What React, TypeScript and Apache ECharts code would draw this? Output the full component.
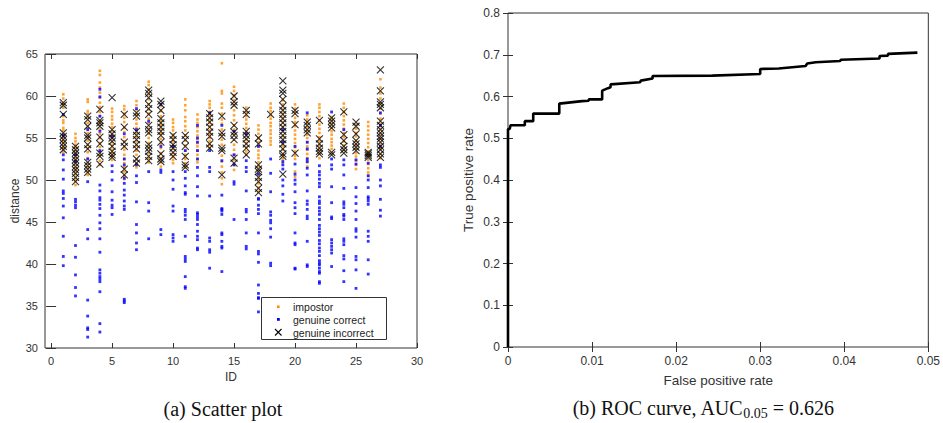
import React, { useEffect, useRef } from 'react';
import * as echarts from 'echarts';

// ---------- data ----------
const ids = [1, 2, 3, 4, 5, 6, 7, 8, 9, 10, 11, 12, 13, 14, 15, 16, 17, 18, 19, 20, 21, 22, 23, 24, 25, 26, 27];

const impostorById: number[][] = [
  [60.2, 59.7, 59.1, 58.6, 57.6, 57.1, 56.8, 56.2, 55.9, 55.4, 55.1, 54.7, 54.4, 54.0, 53.7, 53.3],
  [55.5, 55.0, 54.6, 54.2, 53.9, 53.4, 53.1, 52.6, 52.3, 51.9, 51.4, 51.1, 50.7, 50.2, 49.9, 49.4],
  [59.6, 59.3, 58.2, 57.9, 57.4, 56.8, 56.2, 55.6, 55.2, 54.7, 54.2, 53.8, 53.3, 52.6, 52.0, 51.5, 51.0, 50.6],
  [63.0, 62.5, 61.6, 61.0, 60.4, 59.8, 59.2, 58.7, 58.1, 57.6, 57.0, 56.6, 56.0, 55.5, 55.0, 54.4, 53.9, 53.4, 52.9, 52.3, 51.8],
  [58.5, 58.1, 57.6, 57.2, 56.7, 56.3, 55.8, 55.4, 55.0, 54.5, 54.1, 53.6, 53.2, 52.8, 52.4],
  [58.8, 58.4, 57.9, 57.4, 56.9, 56.2, 55.7, 55.1, 54.6, 54.0, 53.6, 53.0, 52.5, 52.0, 51.5, 51.0, 50.5, 50.1],
  [59.4, 58.9, 58.3, 57.8, 57.2, 56.7, 56.2, 55.6, 55.1, 54.6, 54.1, 53.5, 53.0, 52.4, 51.9, 51.5],
  [61.7, 61.3, 60.8, 60.2, 59.6, 59.0, 58.4, 57.9, 57.3, 56.8, 56.1, 55.5, 55.0, 54.4, 53.9, 53.2, 52.6, 52.1],
  [58.8, 58.2, 57.6, 57.0, 56.5, 56.0, 55.5, 54.9, 54.3, 53.8, 53.2, 52.6, 52.1, 51.6],
  [57.2, 56.8, 56.3, 55.9, 55.4, 55.0, 54.6, 54.1, 53.7, 53.2, 52.8, 52.4, 52.0],
  [59.6, 58.9, 58.3, 57.5, 57.0, 56.4, 55.9, 55.3, 54.7, 54.1, 53.5, 53.0, 52.5, 52.0, 51.5],
  [57.8, 57.2, 56.8, 56.3, 55.8, 55.3, 54.9, 54.4, 54.0, 53.5, 53.0, 52.5, 52.1],
  [59.4, 59.0, 58.6, 58.1, 57.7, 57.2, 56.8, 56.4, 55.9, 55.5, 55.0, 54.6, 54.2, 53.8],
  [63.9, 60.6, 60.3, 59.1, 58.6, 57.9, 57.2, 56.7, 56.0, 55.4, 54.8, 54.2, 53.5, 52.9, 52.2, 51.6, 50.9, 50.2, 49.5],
  [61.1, 60.6, 60.1, 59.5, 58.9, 58.3, 57.7, 57.1, 56.5, 56.0, 55.4, 54.8, 54.2, 53.6, 53.0, 52.4, 51.8, 51.2],
  [58.6, 58.1, 57.6, 57.2, 56.7, 56.2, 55.7, 55.3, 54.8, 54.4, 53.9, 53.4, 53.0],
  [56.5, 56.0, 55.5, 55.0, 54.5, 54.0, 53.5, 53.0, 52.6, 52.1, 51.6, 51.1, 50.6, 50.1, 49.6, 49.1, 48.6],
  [59.1, 58.6, 58.2, 57.7, 57.3, 56.8, 56.4, 55.9, 55.5, 55.0, 54.6, 54.2],
  [59.5, 59.0, 58.4, 57.9, 57.4, 56.9, 56.3, 55.8, 55.2, 54.7, 54.1, 53.6, 53.0, 52.5, 52.0],
  [59.0, 58.5, 58.0, 57.4, 56.9, 56.4, 55.9, 55.4, 54.9, 54.4, 53.9, 53.4, 52.9, 52.5, 51.0, 50.4],
  [57.7, 57.2, 56.8, 56.3, 55.9, 55.4, 55.0, 54.5, 54.0, 53.6, 53.1, 52.6, 52.1, 51.6],
  [59.0, 58.6, 58.1, 57.6, 57.1, 56.6, 56.1, 55.6, 55.1, 54.6, 54.1, 53.6, 53.1, 52.6],
  [57.5, 57.1, 56.7, 56.2, 55.8, 55.4, 54.9, 54.5, 54.1, 53.7, 53.2],
  [59.1, 58.6, 58.1, 57.6, 57.1, 56.6, 56.1, 55.6, 55.1, 54.6, 54.1, 53.6],
  [56.6, 56.1, 55.6, 55.2, 54.7, 54.2, 53.7, 53.2, 52.8, 52.3, 51.8, 51.3],
  [56.9, 56.4, 55.9, 55.4, 54.9, 54.4, 53.9, 53.4, 52.9, 52.4, 51.9, 51.4, 50.9, 50.5],
  [62.0, 61.0, 60.3, 59.7, 59.1, 58.5, 57.9, 57.3, 56.7, 56.1, 55.5, 54.9, 54.3, 53.7, 53.1, 52.6],
];

const correctById: number[][] = [
  [57.8, 55.3, 53.0, 52.4, 51.2, 50.1, 48.7, 48.4, 47.8, 46.9, 45.5, 43.3, 40.9, 39.8],
  [53.0, 52.2, 47.7, 47.4, 47.0, 46.7, 42.2, 40.8, 38.7, 37.2, 36.2],
  [56.0, 52.5, 49.8, 44.1, 43.0, 35.7, 33.8, 32.4, 32.2, 31.3],
  [60.8, 59.9, 57.6, 55.8, 53.5, 49.4, 48.7, 47.9, 47.6, 47.1, 46.6, 45.8, 44.9, 44.2, 43.0, 41.4, 39.3, 38.9, 38.5, 38.2, 37.9, 36.7, 32.9, 31.9],
  [55.2, 51.7, 51.0, 50.0, 48.6, 47.6, 47.0, 46.7, 45.9],
  [55.5, 52.5, 51.8, 50.2, 49.6, 48.8, 48.2, 47.5, 46.9, 46.5, 35.8, 35.6, 35.4],
  [58.5, 56.0, 51.8, 50.5, 49.7, 47.4, 44.7, 43.7, 42.5, 41.7],
  [57.0, 51.0, 47.3, 46.3, 43.0],
  [59.0, 54.0, 51.2, 50.9, 44.1, 43.5],
  [54.0, 51.0, 50.0, 48.9, 46.9, 46.3, 43.5, 43.1, 42.7],
  [53.5, 51.0, 50.2, 49.3, 48.5, 48.3, 46.5, 46.2, 45.8, 45.3, 43.3, 40.9, 40.6, 40.3, 38.5, 37.3, 37.1],
  [56.5, 55.0, 54.5, 53.5, 52.5, 51.5, 50.5, 49.2, 48.1, 46.1, 45.9, 45.6, 45.3, 44.7, 43.9, 43.3, 42.9, 41.9, 41.7],
  [58.0, 53.5, 51.5, 51.0, 48.1, 43.1, 42.7, 41.7, 41.4, 39.5],
  [56.5, 52.3, 48.2, 46.6, 46.5, 46.3, 45.9, 43.7, 43.5, 42.7, 42.1, 41.9, 39.1],
  [55.8, 53.0, 51.8, 49.8, 49.5, 45.3],
  [55.5, 52.3, 51.5, 51.0, 48.7, 46.5, 46.2, 45.3, 43.7, 42.1, 41.8],
  [54.0, 50.7, 47.8, 47.7, 47.0, 46.5, 46.0, 43.7, 41.5, 41.2, 40.2, 37.5, 36.5, 36.0, 35.9, 34.3],
  [52.5, 50.8, 48.6, 46.2, 45.8, 45.2, 44.9, 44.2, 43.2, 40.1, 39.8],
  [56.0, 54.5, 52.2, 51.8, 51.3, 50.0, 49.3, 48.3, 47.5],
  [54.0, 51.9, 50.7, 50.0, 49.5, 48.6, 47.3, 46.7, 46.0, 43.7, 42.5, 42.3, 39.5, 39.4],
  [58.0, 54.5, 53.7, 52.5, 52.2, 51.4, 50.6, 48.7, 47.5, 47.1, 46.5, 45.7, 45.4, 42.7, 39.9, 39.7],
  [51.7, 51.0, 50.6, 50.1, 49.6, 49.2, 48.0, 47.5, 47.2, 46.7, 46.3, 45.9, 45.3, 44.6, 44.2, 43.8, 43.4, 42.8, 42.4, 41.9, 41.5, 41.0, 40.4, 40.1, 39.9, 39.5, 39.1, 38.9, 37.9, 37.7],
  [58.1, 52.5, 51.8, 51.3, 49.2, 47.3, 45.6, 45.4, 42.9, 42.5, 42.1, 41.7, 41.3, 39.7],
  [56.0, 52.4, 51.8, 50.6, 49.0, 47.4, 47.1, 46.7, 45.9, 45.7, 45.3, 43.0, 42.7, 42.3, 41.0, 40.6, 39.2, 37.9],
  [52.4, 51.9, 49.1, 48.0, 47.2, 46.3, 45.3, 44.2, 43.9, 43.2, 40.9, 40.5, 39.3, 37.1],
  [52.0, 50.5, 50.0, 49.1, 48.0, 47.8, 47.5, 47.1, 43.9, 43.3, 42.7, 40.5, 38.8],
  [58.0, 56.5, 54.0, 51.8, 51.5, 50.0, 49.3, 47.7, 46.4, 45.7],
];

const incorrectById: number[][] = [
  [59.2, 58.9, 57.8, 55.6, 55.2, 54.8, 54.4, 54.0, 53.6],
  [54.0, 53.6, 53.2, 52.8, 52.4, 52.0, 51.6, 51.2, 50.8, 50.3, 49.8],
  [57.6, 57.2, 56.4, 55.3, 55.0, 54.2, 53.7, 52.1, 51.7, 51.3, 50.9],
  [58.4, 57.1, 56.8, 56.4, 55.1, 54.3, 53.2, 52.8, 51.9],
  [59.8, 56.0, 55.5, 55.0, 54.6, 54.0, 53.4, 53.0, 52.7],
  [57.8, 56.3, 54.5, 54.0, 51.3, 50.6],
  [58.0, 57.6, 55.8, 55.3, 54.8, 54.2, 53.7, 52.5, 52.0],
  [60.7, 60.3, 59.8, 59.0, 58.5, 57.8, 56.5, 56.0, 55.6, 54.2, 53.8, 53.4, 52.8, 52.3],
  [59.4, 59.0, 58.3, 57.3, 56.8, 56.3, 55.8, 55.3, 54.5, 53.1, 52.5, 52.2],
  [55.3, 54.8, 54.2, 53.8, 53.3, 52.8],
  [55.3, 54.8, 54.0, 52.8, 51.8, 51.5],
  [],
  [57.9, 57.4, 56.9, 56.3, 55.7, 55.2, 54.3, 53.8],
  [57.6, 55.6, 55.2, 53.8, 53.5, 50.6],
  [60.0, 59.3, 58.9, 56.5, 55.7, 55.3, 54.8, 52.6, 52.0],
  [58.3, 57.8, 55.8, 55.3, 54.9, 54.3, 53.8, 53.0],
  [55.0, 54.3, 51.8, 51.3, 51.0, 50.3, 49.8, 49.0, 48.5],
  [57.8],
  [61.8, 60.7, 60.3, 59.6, 58.8, 58.3, 57.8, 57.3, 56.8, 56.3, 55.8, 55.3, 54.8, 54.3, 53.7, 53.1, 52.8, 50.7],
  [58.3, 57.9, 56.6, 53.2],
  [56.9, 56.5, 56.0, 55.6],
  [57.1, 54.9, 54.3, 53.8, 53.4, 53.1],
  [57.4, 57.0, 56.6, 56.2, 53.3, 53.0],
  [58.1, 55.4, 54.7, 54.0, 53.6, 53.2],
  [56.9, 56.4, 55.5, 54.7, 54.3, 53.9, 53.5],
  [53.3, 53.1, 52.9, 52.7],
  [63.1, 60.6, 59.3, 59.0, 58.6, 57.0, 56.5, 56.0, 55.6, 55.2, 54.9, 54.5, 54.0, 53.6, 53.1, 52.7],
];

const rocFpr = [0, 0, 0.0002, 0.0003, 0.0020, 0.0020, 0.0030, 0.0030, 0.0061, 0.0061, 0.0088, 0.0096, 0.0096, 0.0112, 0.0112, 0.0119, 0.0122, 0.0122, 0.0157, 0.0158, 0.0172, 0.0172, 0.0243, 0.0300, 0.0300, 0.0322, 0.0354, 0.0356, 0.0366, 0.0395, 0.0396, 0.0442, 0.0442, 0.0452, 0.0452, 0.0487];
const rocTpr = [0, 0.522, 0.522, 0.531, 0.531, 0.541, 0.541, 0.559, 0.559, 0.583, 0.589, 0.590, 0.593, 0.593, 0.614, 0.620, 0.622, 0.629, 0.634, 0.638, 0.643, 0.649, 0.650, 0.654, 0.666, 0.667, 0.673, 0.679, 0.682, 0.685, 0.688, 0.691, 0.697, 0.698, 0.702, 0.705];

const xTicksLeft = [0, 5, 10, 15, 20, 25, 30];
const legendLabels = ['impostor', 'genuine correct', 'genuine incorrect'];
const captionA = '(a) Scatter plot';
const captionB = ['(b) ROC curve, AUC', '0.05', ' = 0.626'];

// ---------- style ----------
const ORANGE = '#ff8c00';
const BLUE = '#0000ff';
const AXIS = '#333';
const SANS = '"Liberation Sans", Arial, Helvetica, sans-serif';
const SERIF = '"Liberation Serif", "Times New Roman", serif';

function toPairs(lists: number[][]) {
  const out: number[][] = [];
  lists.forEach((vals, i) => vals.forEach((v) => out.push([ids[i], v])));
  return out;
}

const X_PATH = 'path://M0,0L10,10M10,0L0,10';

export default function App() {
  const ref = useRef<HTMLDivElement>(null);
  useEffect(() => {
    const chart = echarts.init(ref.current!, null, { renderer: 'svg' });
    const tickLabel = { color: AXIS, fontFamily: SANS, fontSize: 11 };
    const tickLabelR = { color: AXIS, fontFamily: SANS, fontSize: 12 };
    const hiddenMirror = {
      axisLine: { show: false },
      axisLabel: { show: false },
      splitLine: { show: false },
    };
    const option: any = {
      animation: false,
      backgroundColor: '#fff',
      grid: [
        { left: 45, top: 54, width: 372, height: 294, show: true, borderColor: AXIS, borderWidth: 1, backgroundColor: 'transparent' },
        { left: 508, top: 13, width: 422, height: 334, show: true, borderColor: AXIS, borderWidth: 1, backgroundColor: 'transparent' },
      ],
      xAxis: [
        {
          type: 'value', gridIndex: 0, min: -0.5, max: 30, position: 'bottom',
          axisLine: { show: false }, splitLine: { show: false },
          axisTick: { inside: true, length: 5, lineStyle: { color: AXIS }, customValues: xTicksLeft },
          axisLabel: { ...tickLabel, margin: 7, customValues: xTicksLeft },
          name: 'ID', nameLocation: 'middle', nameGap: 23,
          nameTextStyle: { fontFamily: SANS, fontSize: 12, color: AXIS },
        },
        {
          type: 'value', gridIndex: 0, min: -0.5, max: 30, position: 'top', ...hiddenMirror,
          axisTick: { inside: true, length: 5, lineStyle: { color: AXIS }, customValues: xTicksLeft },
        },
        {
          type: 'value', gridIndex: 1, min: 0, max: 0.05, interval: 0.01, position: 'bottom',
          axisLine: { show: false }, splitLine: { show: false },
          axisTick: { inside: true, length: 5, lineStyle: { color: AXIS } },
          axisLabel: { ...tickLabelR, margin: 8 },
          name: 'False positive rate', nameLocation: 'middle', nameGap: 26,
          nameTextStyle: { fontFamily: SANS, fontSize: 13.5, color: AXIS },
        },
        {
          type: 'value', gridIndex: 1, min: 0, max: 0.05, interval: 0.01, position: 'top', ...hiddenMirror,
          axisTick: { inside: true, length: 5, lineStyle: { color: AXIS } },
        },
      ],
      yAxis: [
        {
          type: 'value', gridIndex: 0, min: 30, max: 65, interval: 5, position: 'left',
          axisLine: { show: false }, splitLine: { show: false },
          axisTick: { inside: true, length: 5, lineStyle: { color: AXIS } },
          axisLabel: { ...tickLabel, margin: 7 },
          name: 'distance', nameLocation: 'middle', nameGap: 24,
          nameTextStyle: { fontFamily: SANS, fontSize: 12, color: AXIS },
        },
        {
          type: 'value', gridIndex: 0, min: 30, max: 65, interval: 5, position: 'right', ...hiddenMirror,
          axisTick: { inside: true, length: 5, lineStyle: { color: AXIS } },
        },
        {
          type: 'value', gridIndex: 1, min: 0, max: 0.8, interval: 0.1, position: 'left',
          axisLine: { show: false }, splitLine: { show: false },
          axisTick: { inside: true, length: 5, lineStyle: { color: AXIS } },
          axisLabel: { ...tickLabelR, margin: 8 },
          name: 'True positive rate', nameLocation: 'middle', nameGap: 33,
          nameTextStyle: { fontFamily: SANS, fontSize: 13.5, color: AXIS },
        },
        {
          type: 'value', gridIndex: 1, min: 0, max: 0.8, interval: 0.1, position: 'right', ...hiddenMirror,
          axisTick: { inside: true, length: 5, lineStyle: { color: AXIS } },
        },
      ],
      series: [
        {
          name: legendLabels[0], type: 'scatter', xAxisIndex: 0, yAxisIndex: 0,
          data: toPairs(impostorById), symbol: 'rect', symbolSize: 2.6,
          itemStyle: { color: ORANGE }, silent: true,
        },
        {
          name: legendLabels[1], type: 'scatter', xAxisIndex: 0, yAxisIndex: 0,
          data: toPairs(correctById), symbol: 'rect', symbolSize: 2.8,
          itemStyle: { color: BLUE }, silent: true,
        },
        {
          name: legendLabels[2], type: 'scatter', xAxisIndex: 0, yAxisIndex: 0,
          data: toPairs(incorrectById), symbol: X_PATH, symbolSize: 7,
          itemStyle: { color: 'rgba(0,0,0,0)', borderColor: '#000', borderWidth: 1.1 }, silent: true,
        },
        {
          name: 'roc', type: 'line', xAxisIndex: 2, yAxisIndex: 2,
          data: rocFpr.map((f, i) => [f, rocTpr[i]]),
          showSymbol: false, symbol: 'none', clip: false,
          lineStyle: { color: '#000', width: 2.6 }, silent: true,
        },
      ],
      graphic: [
        // legend box
        { type: 'rect', shape: { x: 261.5, y: 297.5, width: 125, height: 42 }, style: { fill: '#fff', stroke: AXIS, lineWidth: 1 }, z: 100 },
        { type: 'rect', shape: { x: 277, y: 305.5, width: 2.6, height: 2.6 }, style: { fill: ORANGE }, z: 101 },
        { type: 'rect', shape: { x: 277, y: 318, width: 2.8, height: 2.8 }, style: { fill: BLUE }, z: 101 },
        { type: 'line', shape: { x1: 275, y1: 329, x2: 281.5, y2: 335.5 }, style: { stroke: '#000', lineWidth: 1.1 }, z: 101 },
        { type: 'line', shape: { x1: 275, y1: 335.5, x2: 281.5, y2: 329 }, style: { stroke: '#000', lineWidth: 1.1 }, z: 101 },
        { type: 'text', x: 293, y: 307, style: { text: legendLabels[0], fontFamily: SANS, fontSize: 10.5, fill: '#222', verticalAlign: 'middle' }, z: 101 },
        { type: 'text', x: 293, y: 319.5, style: { text: legendLabels[1], fontFamily: SANS, fontSize: 10.5, fill: '#222', verticalAlign: 'middle' }, z: 101 },
        { type: 'text', x: 293, y: 332.5, style: { text: legendLabels[2], fontFamily: SANS, fontSize: 10.5, fill: '#222', verticalAlign: 'middle' }, z: 101 },
        // captions
        { type: 'text', x: 223, y: 409, style: { text: captionA, fontFamily: SERIF, fontSize: 20, fill: '#111', align: 'center', verticalAlign: 'middle' } },
        {
          type: 'text', x: 703, y: 408,
          style: {
            text: `{n|${captionB[0]}}{s|${captionB[1]}}{n|${captionB[2]}}`,
            align: 'center', verticalAlign: 'middle', fill: '#111',
            rich: {
              n: { fontFamily: SERIF, fontSize: 20, lineHeight: 24, fill: '#111' },
              s: { fontFamily: SERIF, fontSize: 14, lineHeight: 14, verticalAlign: 'bottom', fill: '#111' },
            },
          },
        },
      ],
    };
    chart.setOption(option);
    return () => chart.dispose();
  }, []);
  return <div ref={ref} style={{ position: 'fixed', left: 0, top: 0, width: 943, height: 423 }} />;
}
